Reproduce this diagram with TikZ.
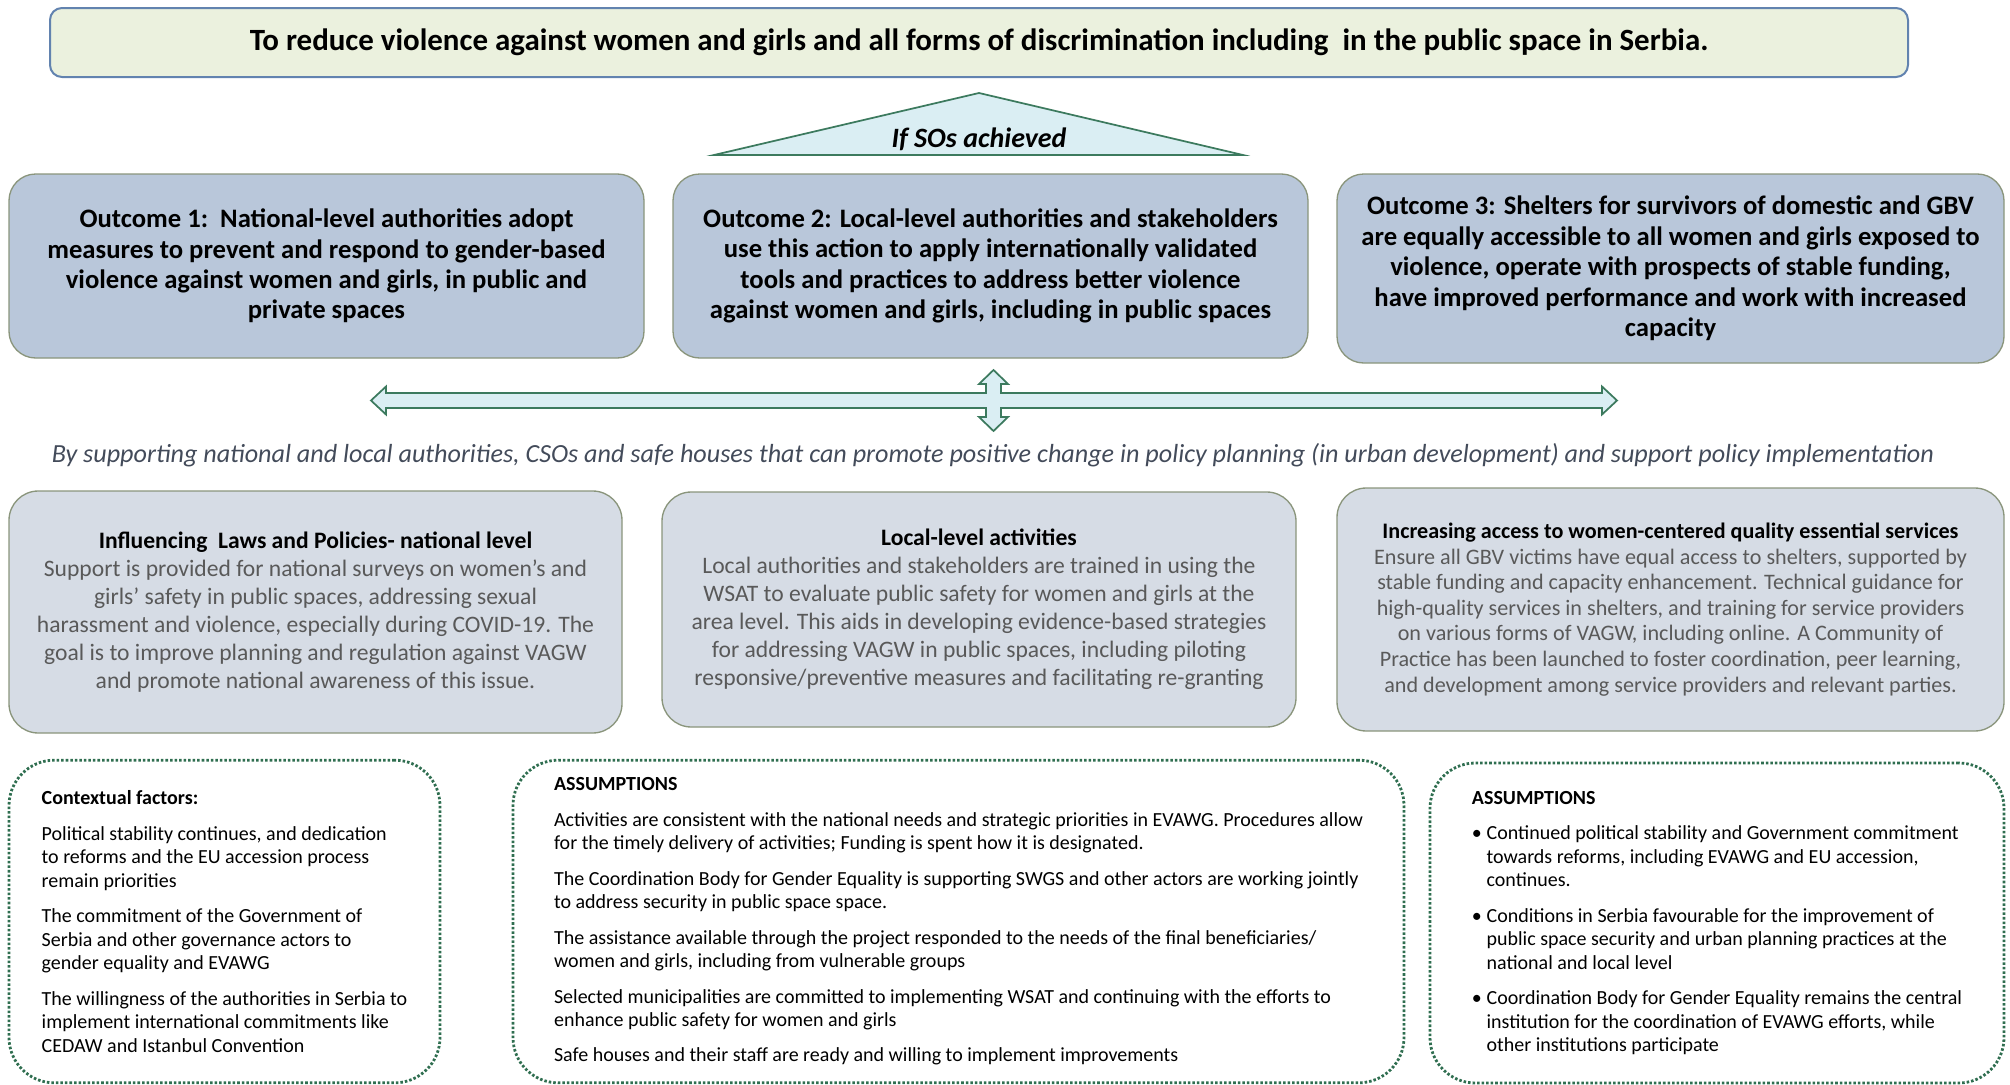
\documentclass[tikz,border=0pt]{standalone}
\usepackage{fontspec}
\setmainfont{Carlito}
\usetikzlibrary{calc}

\definecolor{goalfill}{HTML}{EBF1DE}
\definecolor{goalline}{HTML}{6283AF}
\definecolor{paleblue}{HTML}{DAEEF3}
\definecolor{darkgreen}{HTML}{3C7A5E}
\definecolor{outfill}{HTML}{B9C7DA}
\definecolor{olive}{HTML}{8A957C}
\definecolor{stratfill}{HTML}{D6DCE5}
\definecolor{bodygray}{HTML}{595959}
\definecolor{slate}{HTML}{434B5A}
\definecolor{dotgreen}{HTML}{2F6E50}

\tikzset{goal/.style={draw=goalline,fill=goalfill,line width=1.5pt,rounded corners=9pt,
    minimum width=1393.5pt,minimum height=51.75pt,font=\fontsize{23.2}{26}\selectfont\bfseries}}
\tikzset{outcome/.style={draw=olive,fill=outfill,line width=1pt,rounded corners=20pt,align=center,
    minimum width=#1,minimum height=138pt,font=\fontsize{20}{22.8}\selectfont\bfseries},outcome/.default=476.25pt}
\tikzset{strategy/.style={draw=olive,fill=stratfill,line width=1pt,rounded corners=22pt,align=center,
    text=bodygray,minimum width=#1,minimum height=180pt,font=\fontsize{17.7}{21}\selectfont},strategy/.default=475.5pt}
\tikzset{factors/.style={draw=dotgreen,line width=2.1pt,dash pattern=on 1.9pt off 1.5pt,rounded corners=34pt,
    align=left,minimum width=#1,minimum height=242pt,font=\fontsize{15}{17.6}\selectfont},factors/.default=430pt}
\tikzset{flow/.style={draw=darkgreen,fill=paleblue,line width=1.3pt,line join=miter}}

\newcommand{\heading}[1]{\textcolor{black}{\bfseries #1}}
\newcommand{\bul}{\makebox[11pt][l]{\textbullet}}
\newcommand{\ind}{\hspace*{11pt}}

\begin{document}
\begin{tikzpicture}[x=0.75pt,y=-0.75pt]

	\useasboundingbox (0,0) rectangle (2010,1085);

	% Overall goal
	\node [goal] (goal) at (979,42.5)
		{To reduce violence against women and girls and all forms of discrimination including\ \ in the public space in Serbia.};

	% Triangle "If SOs achieved"
	\coordinate (apex) at (979,93);
	\coordinate (base left) at (714,155);
	\coordinate (base right) at (1243,155);
	\draw [flow] (base left) -- (apex) -- (base right) -- cycle;
	\node [font=\fontsize{21}{24}\selectfont\bfseries\itshape] (ifso) at (979,139) {If SOs achieved};

	% The three outcomes
	\node [outcome] (o1) at (326.5,266)
		{Outcome 1:\ \ National-level authorities adopt\\
		 measures to prevent and respond to gender-based\\
		 violence against women and girls, in public and\\
		 private spaces};
	\node [outcome] (o2) at (990.5,266)
		{Outcome 2: Local-level authorities and stakeholders\\
		 use this action to apply internationally validated\\
		 tools and practices to address better violence\\
		 against women and girls, including in public spaces};
	\node [outcome=500.25pt, minimum height=141.75pt] (o3) at (1670.5,268.5)
		{Outcome 3: Shelters for survivors of domestic and GBV\\
		 are equally accessible to all women and girls exposed to\\
		 violence, operate with prospects of stable funding,\\
		 have improved performance and work with increased\\
		 capacity};

	% Cross-shaped double arrow
	\coordinate (cross) at (993.5,400.5);
	\draw [flow] (371,400.5) -- (386,386.5) -- (386,393) -- (986,393) -- (986,384) -- (979,384)
		-- (993.5,370) -- (1008,384) -- (1001,384) -- (1001,393) -- (1602,393) -- (1602,386.5)
		-- (1617,400.5) -- (1602,414.5) -- (1602,408) -- (1001,408) -- (1001,417) -- (1008,417)
		-- (993.5,431) -- (979,417) -- (986,417) -- (986,408) -- (386,408) -- (386,414.5) -- cycle;

	% Line on the means of action
	\node [font=\fontsize{19.6}{22}\selectfont\itshape, text=slate] (means) at (993,455)
		{By supporting national and local authorities, CSOs and safe houses that can promote positive change in policy planning (in urban development) and support policy implementation};

	% The three lines of work
	\node [strategy=459.75pt, minimum height=181.5pt] (s1) at (315.5,612)
		{\heading{Influencing\ \ Laws and Policies- national level}\\
		 Support is provided for national surveys on women's and\\
		 girls' safety in public spaces, addressing sexual\\
		 harassment and violence, especially during COVID-19. The\\
		 goal is to improve planning and regulation against VAGW\\
		 and promote national awareness of this issue.};
	\node [strategy, minimum height=176.25pt] (s2) at (979,609.5)
		{\heading{Local-level activities}\\
		 Local authorities and stakeholders are trained in using the\\
		 WSAT to evaluate public safety for women and girls at the\\
		 area level. This aids in developing evidence-based strategies\\
		 for addressing VAGW in public spaces, including piloting\\
		 responsive/preventive measures and facilitating re-granting};
	\node [strategy=500.25pt, minimum height=182.25pt, font=\fontsize{16.6}{19.2}\selectfont] (s3) at (1670.5,609.5)
		{\heading{Increasing access to women-centered quality essential services}\\
		 Ensure all GBV victims have equal access to shelters, supported by\\
		 stable funding and capacity enhancement. Technical guidance for\\
		 high-quality services in shelters, and training for service providers\\
		 on various forms of VAGW, including online. A Community of\\
		 Practice has been launched to foster coordination, peer learning,\\
		 and development among service providers and relevant parties.};

	% Contextual factors
	\node [factors=323.25pt] (b1) at (224.5,921.5)
		{\textbf{Contextual factors:}\\[9pt]
		 Political stability continues, and dedication\\
		 to reforms and the EU accession process\\
		 remain priorities\\[9pt]
		 The commitment of the Government of\\
		 Serbia and other governance actors to\\
		 gender equality and EVAWG\\[9pt]
		 The willingness of the authorities in Serbia to\\
		 implement international commitments like\\
		 CEDAW and Istanbul Convention};

	% Assumptions (middle)
	\node [factors=668.25pt] (b2) at (958.5,921.5)
		{\textbf{ASSUMPTIONS}\\[9pt]
		 Activities are consistent with the national needs and strategic priorities in EVAWG. Procedures allow\\
		 for the timely delivery of activities; Funding is spent how it is designated.\\[9pt]
		 The Coordination Body for Gender Equality is supporting SWGS and other actors are working jointly\\
		 to address security in public space space.\\[9pt]
		 The assistance available through the project responded to the needs of the final beneficiaries/\\
		 women and girls, including from vulnerable groups\\[9pt]
		 Selected municipalities are committed to implementing WSAT and continuing with the efforts to\\
		 enhance public safety for women and girls\\[9pt]
		 Safe houses and their staff are ready and willing to implement improvements};

	% Assumptions (right)
	\node [factors=430.5pt, minimum height=240pt] (b3) at (1717,923)
		{\textbf{ASSUMPTIONS}\\[9pt]
		 \bul Continued political stability and Government commitment\\
		 \ind towards reforms, including EVAWG and EU accession,\\
		 \ind continues.\\[9pt]
		 \bul Conditions in Serbia favourable for the improvement of\\
		 \ind public space security and urban planning practices at the\\
		 \ind national and local level\\[9pt]
		 \bul Coordination Body for Gender Equality remains the central\\
		 \ind institution for the coordination of EVAWG efforts, while\\
		 \ind other institutions participate};

\end{tikzpicture}
\end{document}
